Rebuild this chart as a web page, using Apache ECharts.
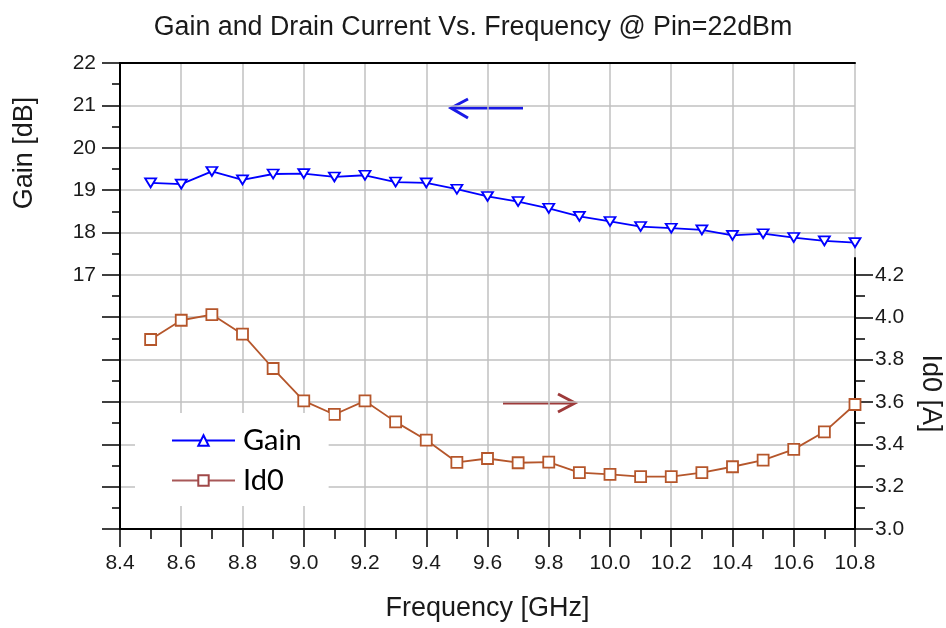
<!DOCTYPE html>
<html><head><meta charset="utf-8">
<script src="https://cdn.jsdelivr.net/npm/echarts@6/dist/echarts.min.js"></script>
<style>html,body{margin:0;padding:0;background:#fff}#c{width:946px;height:628px}</style>
</head><body><div id="c"></div>
<script>
// ---- data ----
const freq = [8.5, 8.6, 8.7, 8.8, 8.9, 9.0, 9.1, 9.2, 9.3, 9.4, 9.5, 9.6, 9.7, 9.8, 9.9, 10.0, 10.1, 10.2, 10.3, 10.4, 10.5, 10.6, 10.7, 10.8];
const gain = [19.17, 19.14, 19.44, 19.24, 19.38, 19.39, 19.31, 19.35, 19.19, 19.17, 19.02, 18.85, 18.73, 18.57, 18.38, 18.26, 18.14, 18.10, 18.06, 17.93, 17.97, 17.88, 17.80, 17.76];
const id0 = [3.895, 3.986, 4.013, 3.920, 3.758, 3.605, 3.541, 3.605, 3.506, 3.420, 3.315, 3.333, 3.313, 3.316, 3.266, 3.258, 3.247, 3.247, 3.266, 3.294, 3.325, 3.376, 3.459, 3.588];
const rightTicks = [3.0, 3.2, 3.4, 3.6, 3.8, 4.0, 4.2];
const leftLabelMin = 17;

const FONT = "'Liberation Sans', Arial, sans-serif";
const AX = {color: '#000', width: 2};
const TK = {color: '#000', width: 1.5};
const GRID = {color: '#c0c0c0', width: 1.5};
const LBL = {fontFamily: FONT, fontSize: 21, color: '#1a1a1a'};
const NAME = {fontFamily: FONT, fontSize: 27, color: '#1a1a1a'};

const chart = echarts.init(document.getElementById('c'), null, {renderer: 'canvas'});
chart.setOption({
  animation: false,
  backgroundColor: '#fff',
  title: {text: 'Gain and Drain Current Vs. Frequency @ Pin=22dBm', left: 'center', top: 9,
    textStyle: {fontFamily: FONT, fontSize: 26.8, fontWeight: 'normal', color: '#1a1a1a'}},
  grid: [
    {left: 120, right: 91, top: 63, bottom: 99, outerBoundsMode: 'none', containLabel: false},
    {left: 120, right: 91, top: 258, bottom: 99, outerBoundsMode: 'none', containLabel: false}
  ],
  xAxis: [
    {type: 'value', gridIndex: 0, min: 8.4, max: 10.8, interval: 0.2,
      name: 'Frequency [GHz]', nameLocation: 'middle', nameGap: 66, nameTextStyle: NAME,
      axisLine: {onZero: false, lineStyle: AX},
      axisTick: {length: 18, lineStyle: TK},
      minorTick: {show: true, splitNumber: 2, length: 10, lineStyle: TK},
      axisLabel: Object.assign({margin: 24, formatter: v => v.toFixed(1)}, LBL),
      splitLine: {show: true, lineStyle: GRID}},
    {type: 'value', gridIndex: 0, position: 'top', min: 8.4, max: 10.8, interval: 0.2,
      axisLine: {onZero: false, lineStyle: AX}, axisTick: {show: false}, axisLabel: {show: false}, splitLine: {show: false}},
    {type: 'value', gridIndex: 1, min: 8.4, max: 10.8, interval: 0.2, show: false}
  ],
  yAxis: [
    {type: 'value', gridIndex: 0, min: 11, max: 22, interval: 1,
      name: 'Gain [dB]', nameLocation: 'middle', nameGap: 82,
      nameTextStyle: Object.assign({padding: [0, 0, 0, 286]}, NAME),
      axisLine: {show: true, onZero: false, lineStyle: AX},
      axisTick: {show: true, length: 18, lineStyle: TK},
      minorTick: {show: true, splitNumber: 2, length: 8, lineStyle: TK},
      axisLabel: Object.assign({margin: 24, formatter: v => (v >= leftLabelMin ? String(v) : '')}, LBL),
      splitLine: {show: true, lineStyle: GRID}},
    {type: 'value', gridIndex: 1, position: 'right', min: 3.0, max: 4.28, interval: 0.2,
      name: 'Id0 [A]', nameLocation: 'middle', nameRotate: -90, nameGap: 62, nameTextStyle: NAME,
      axisLine: {show: true, onZero: false, lineStyle: AX},
      axisTick: {show: true, inside: false, length: 18, lineStyle: TK, customValues: rightTicks},
      minorTick: {show: true, splitNumber: 2, length: 10, lineStyle: TK},
      axisLabel: Object.assign({margin: 20, customValues: rightTicks, formatter: v => v.toFixed(1)}, LBL),
      splitLine: {show: false}}
  ],
  legend: {
    orient: 'vertical', left: 135, top: 413, backgroundColor: '#fff',
    padding: [13, 27, 11, 36], itemGap: 11, itemWidth: 63, itemHeight: 13, symbolRotate: 0,
    textStyle: {fontFamily: "Lato, 'Open Sans', sans-serif", fontSize: 29, color: '#000', padding: [0, 0, 0, 3]},
    data: [
      {name: 'Gain'},
      {name: 'Id0', lineStyle: {color: '#a85858'}, itemStyle: {borderColor: '#a04848'}}
    ]
  },
  graphic: [
    {type: 'polyline', shape: {points: [[523, 108], [452, 108]]}, style: {stroke: '#1a1ae6', lineWidth: 3, fill: null}},
    {type: 'polyline', shape: {points: [[468, 99], [451, 108], [468, 118]]}, style: {stroke: '#1a1ae6', lineWidth: 3, fill: null}},
    {type: 'polyline', shape: {points: [[503, 403], [574, 403]]}, style: {stroke: '#9e3a3a', lineWidth: 3, fill: null}},
    {type: 'polyline', shape: {points: [[558, 394], [575, 403], [558, 412]]}, style: {stroke: '#9e3a3a', lineWidth: 3, fill: null}}
  ],
  series: [
    {name: 'Gain', type: 'line', xAxisIndex: 0, yAxisIndex: 0,
      data: freq.map((f, i) => [f, gain[i]]),
      symbol: 'triangle', symbolRotate: 180, symbolSize: [11, 9], showAllSymbol: true,
      lineStyle: {color: '#0000ff', width: 1.8},
      itemStyle: {color: '#fff', borderColor: '#0000ff', borderWidth: 1.8}, z: 3},
    {name: 'Id0', type: 'line', xAxisIndex: 2, yAxisIndex: 1,
      data: freq.map((f, i) => [f, id0[i]]),
      symbol: 'rect', symbolSize: 11, showAllSymbol: true,
      lineStyle: {color: '#b5562b', width: 1.8},
      itemStyle: {color: '#fff', borderColor: '#b5562b', borderWidth: 1.8}, z: 3}
  ]
});
</script></body></html>
